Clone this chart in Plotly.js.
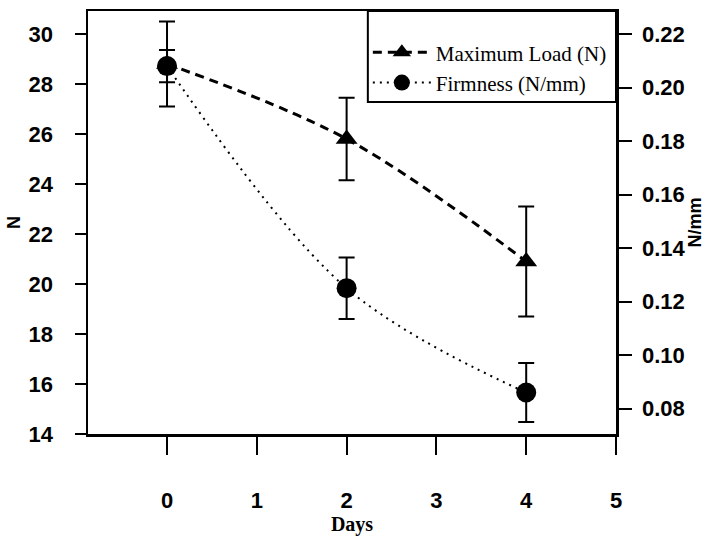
<!DOCTYPE html>
<html>
<head>
<meta charset="utf-8">
<script src="https://cdn.plot.ly/plotly-3.0.1.min.js"></script>
<style>html,body{margin:0;padding:0;background:#fff;}#chart{width:722px;height:543px;}</style>
</head>
<body>
<div id="chart"></div>
<script>
// Data
const days = [0, 2, 4];
const maxLoad = [28.8, 25.8, 20.9];        // N (left axis)
const maxLoadErr = [1.7, 1.65, 2.2];
const firmness = [0.208, 0.125, 0.086];     // N/mm (right axis)
const firmnessErr = [0.006, 0.0115, 0.011];
const xTicks = [0, 1, 2, 3, 4, 5];
const leftTicks = [14, 16, 18, 20, 22, 24, 26, 28, 30];
const rightTicks = [0.08, 0.10, 0.12, 0.14, 0.16, 0.18, 0.20, 0.22];

const traceLoad = {
  x: days, y: maxLoad, name: 'Maximum Load (N)', yaxis: 'y',
  type: 'scatter', mode: 'lines+markers',
  line: {color: '#000', width: 3, dash: '9px,6px', shape: 'spline'},
  marker: {symbol: 'triangle-up', size: 19, color: '#000'},
  error_y: {type: 'data', array: maxLoadErr, visible: true, color: '#000', thickness: 2, width: 8}
};
const traceFirm = {
  x: days, y: firmness, name: 'Firmness (N/mm)', yaxis: 'y2',
  type: 'scatter', mode: 'lines+markers',
  line: {color: '#000', width: 2, dash: '2px,5px', shape: 'spline'},
  marker: {symbol: 'circle', size: 20, color: '#000'},
  error_y: {type: 'data', array: firmnessErr, visible: true, color: '#000', thickness: 2, width: 8}
};

const SERIF = "'Liberation Serif', 'Times New Roman', serif";
const SANS = "'Liberation Sans', Arial, sans-serif";
const tickFont = {family: SANS, size: 22, color: '#000', weight: 'bold'};

const layout = {
  width: 722, height: 543,
  margin: {l: 88, r: 106, t: 11, b: 109},
  paper_bgcolor: '#fff', plot_bgcolor: '#fff',
  font: {family: SERIF, size: 20, color: '#000'},
  showlegend: true,
  legend: {
    x: 0.53, xanchor: 'left', y: 0.95, yanchor: 'top',
    bgcolor: 'rgba(0,0,0,0)', borderwidth: 0,
    itemwidth: 58,
    font: {family: SERIF, size: 21, color: '#000'}
  },
  xaxis: {
    range: [-0.88, 5.0], tickvals: xTicks, ticktext: xTicks.map(String),
    showgrid: false, zeroline: false,
    showline: true, linecolor: '#000', linewidth: 2.5, mirror: true,
    ticks: 'outside', ticklen: 18, tickwidth: 2, tickcolor: '#000',
    ticklabelstandoff: 27,
    tickfont: tickFont,
    title: {text: 'Days', font: {family: SERIF, size: 20, color: '#000', weight: 'bold'}, standoff: 2}
  },
  yaxis: {
    range: [14, 30.92], tickvals: leftTicks, ticktext: leftTicks.map(String),
    showgrid: false, zeroline: false,
    showline: true, linecolor: '#000', linewidth: 2.5,
    ticks: 'outside', ticklen: 11, tickwidth: 2, tickcolor: '#000',
    ticklabelstandoff: 17,
    tickfont: tickFont,
    title: {text: 'N', font: {family: SANS, size: 18, color: '#000', weight: 'bold'}, standoff: 4}
  },
  yaxis2: {
    overlaying: 'y', side: 'right', anchor: 'x',
    range: [0.0705, 0.2286], tickvals: rightTicks, ticktext: rightTicks.map(v => v.toFixed(2)),
    showgrid: false, zeroline: false,
    showline: true, linecolor: '#000', linewidth: 2.5,
    ticks: 'outside', ticklen: 13, tickwidth: 2, tickcolor: '#000',
    ticklabelstandoff: 6,
    tickfont: tickFont,
    title: {text: 'N/mm', font: {family: SANS, size: 18, color: '#000', weight: 'bold'}, standoff: 4}
  },
  shapes: [{
    type: 'rect', xref: 'paper', yref: 'paper',
    x0: 0.53, x1: 1, y0: 0.785, y1: 1,
    line: {color: '#000', width: 2}, fillcolor: 'rgba(0,0,0,0)'
  }]
};

Plotly.newPlot('chart', [traceLoad, traceFirm], layout, {displayModeBar: false, staticPlot: true});
</script>
</body>
</html>
